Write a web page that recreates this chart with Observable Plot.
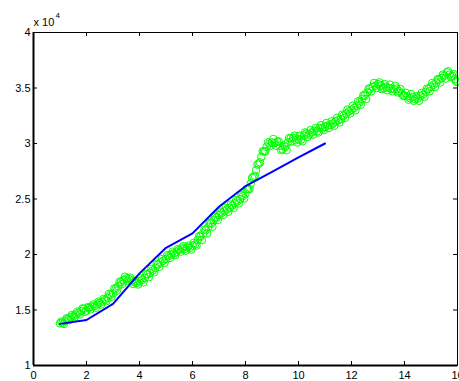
<!DOCTYPE html>
<html>
<head>
<meta charset="utf-8">
<script src="https://cdn.jsdelivr.net/npm/d3@7"></script>
<script src="https://cdn.jsdelivr.net/npm/@observablehq/plot@0.6"></script>
<style>
html, body { margin: 0; padding: 0; overflow: hidden; background: #fff; }
#chart { width: 459px; height: 381px; overflow: hidden; }
#chart svg { max-width: none !important; width: 480px !important; height: 381px !important; display: block; }
</style>
</head>
<body>
<div id="chart"></div>
<script>
// Blue line: x = 1..11
const lineX = [1, 2, 3, 4, 5, 6, 7, 8, 9, 10, 11];
const lineY = [13750, 14100, 15550, 18300, 20600, 21900, 24300, 26150, 27450, 28750, 30000];

// Green circles, first set: x = 1.0 .. 16.0 step 0.1
const greenX = [
  1.0,1.1,1.2,1.3,1.4,1.5,1.6,1.7,1.8,1.9,
  2.0,2.1,2.2,2.3,2.4,2.5,2.6,2.7,2.8,2.9,
  3.0,3.1,3.2,3.3,3.4,3.5,3.6,3.7,3.8,3.9,
  4.0,4.1,4.2,4.3,4.4,4.5,4.6,4.7,4.8,4.9,
  5.0,5.1,5.2,5.3,5.4,5.5,5.6,5.7,5.8,5.9,
  6.0,6.1,6.2,6.3,6.4,6.5,6.6,6.7,6.8,6.9,
  7.0,7.1,7.2,7.3,7.4,7.5,7.6,7.7,7.8,7.9,
  8.0,8.1,8.2,8.3,8.4,8.5,8.6,8.7,8.8,8.9,
  9.0,9.1,9.2,9.3,9.4,9.5,9.6,9.7,9.8,9.9,
  10.0,10.1,10.2,10.3,10.4,10.5,10.6,10.7,10.8,10.9,
  11.0,11.1,11.2,11.3,11.4,11.5,11.6,11.7,11.8,11.9,
  12.0,12.1,12.2,12.3,12.4,12.5,12.6,12.7,12.8,12.9,
  13.0,13.1,13.2,13.3,13.4,13.5,13.6,13.7,13.8,13.9,
  14.0,14.1,14.2,14.3,14.4,14.5,14.6,14.7,14.8,14.9,
  15.0,15.1,15.2,15.3,15.4,15.5,15.6,15.7,15.8,15.9,
  16.0
];
const greenY = [
  13800,13850,14000,14200,14350,14450,14600,14750,14900,15100,
  14950,15200,15300,15350,15500,15650,15750,15900,16100,16350,
  16500,16900,17150,17500,17700,17850,17800,17650,17500,17450,
  17600,17700,17900,18200,18350,18550,18800,19100,19300,19450,
  19600,19850,20000,20100,20250,20400,20550,20500,20650,20600,
  20800,20900,21300,21600,21900,22200,22500,22800,23100,23300,
  23550,23750,23900,24050,24200,24400,24600,24800,25000,25250,
  25500,25900,26400,27000,27600,28200,28800,29300,29700,30000,
  30100,30050,30150,29800,29500,29700,30100,30450,30500,30300,
  30400,30350,30700,30900,30800,31000,31150,31100,31400,31350,
  31500,31600,31650,31800,32000,32100,32200,32500,32700,32900,
  33050,33200,33400,33700,34000,34300,34600,34900,35100,35200,
  35350,35200,35000,35100,35000,34950,34900,34950,34700,34500,
  34300,34250,34100,34200,34000,34050,34300,34400,34650,34900,
  35100,35300,35500,35750,35900,36100,36400,36200,36100,35800,
  35550
];

// Green circles, second set: x = 1.05 .. 15.95 step 0.1
const greenX2 = [
  1.05,1.15,1.25,1.35,1.45,1.55,1.65,1.75,1.85,1.95,
  2.05,2.15,2.25,2.35,2.45,2.55,2.65,2.75,2.85,2.95,
  3.05,3.15,3.25,3.35,3.45,3.55,3.65,3.75,3.85,3.95,
  4.05,4.15,4.25,4.35,4.45,4.55,4.65,4.75,4.85,4.95,
  5.05,5.15,5.25,5.35,5.45,5.55,5.65,5.75,5.85,5.95,
  6.05,6.15,6.25,6.35,6.45,6.55,6.65,6.75,6.85,6.95,
  7.05,7.15,7.25,7.35,7.45,7.55,7.65,7.75,7.85,7.95,
  8.05,8.15,8.25,8.35,8.45,8.55,8.65,8.75,8.85,8.95,
  9.05,9.15,9.25,9.35,9.45,9.55,9.65,9.75,9.85,9.95,
  10.05,10.15,10.25,10.35,10.45,10.55,10.65,10.75,10.85,10.95,
  11.05,11.15,11.25,11.35,11.45,11.55,11.65,11.75,11.85,11.95,
  12.05,12.15,12.25,12.35,12.45,12.55,12.65,12.75,12.85,12.95,
  13.05,13.15,13.25,13.35,13.45,13.55,13.65,13.75,13.85,13.95,
  14.05,14.15,14.25,14.35,14.45,14.55,14.65,14.75,14.85,14.95,
  15.05,15.15,15.25,15.35,15.45,15.55,15.65,15.75,15.85,15.95
];
const greenY2 = [
  13950,13750,14250,14100,14550,14350,14850,14600,15150,14850,
  15250,15050,15500,15200,15750,15500,16000,15800,16450,16200,
  16950,16750,17550,17350,18000,17600,17900,17350,17650,17300,
  17850,17500,18250,17950,18700,18400,19150,18900,19600,19250,
  19950,19700,20250,19950,20500,20250,20750,20350,20800,20450,
  21050,20800,21650,21300,22250,21900,22850,22500,23400,23100,
  23850,23550,24200,23850,24500,24200,24900,24600,25350,25050,
  25900,25900,26900,27100,28100,28300,29300,29300,30100,29800,
  30400,29800,30200,29400,29800,29400,30500,30200,30700,30100,
  30700,30200,31000,30600,31200,30800,31400,31000,31650,31200,
  31850,31400,32000,31600,32300,31900,32600,32300,33050,32700,
  33400,33000,33800,33500,34350,34000,34950,34700,35450,35000,
  35500,34900,35350,34800,35300,34700,35200,34600,34900,34300,
  34550,33950,34450,33850,34250,33850,34550,34200,34950,34700,
  35450,35100,35800,35500,36200,35850,36500,36000,36250,35600
];

const xTicks = [0, 2, 4, 6, 8, 10, 12, 14, 16];
const yTicks = [10000, 15000, 20000, 25000, 30000, 35000, 40000];
const yTickLabels = ["1", "1.5", "2", "2.5", "3", "3.5", "4"];

const lineData = lineX.map((x, i) => ({x, y: lineY[i]}));
const greenData = greenX.map((x, i) => ({x, y: greenY[i]}))
  .concat(greenX2.map((x, i) => ({x, y: greenY2[i]})));

const W = 480, H = 381;
const mL = 33, mR = 23, mT = 32, mB = 16;
const innerW = W - mL - mR, innerH = H - mT - mB;
const tl = 4;
const font = "'Liberation Sans', Arial, Helvetica, sans-serif";

const chart = Plot.plot({
  width: W,
  height: H,
  marginLeft: mL,
  marginRight: mR,
  marginTop: mT,
  marginBottom: mB,
  style: {fontFamily: font, fontSize: "11px", color: "#000", background: "#fff", overflow: "visible"},
  x: {domain: [0, 16]},
  y: {domain: [10000, 40000]},
  marks: [
    Plot.dot(greenData, {x: "x", y: "y", r: 3.8, stroke: "#00ff00", strokeWidth: 1, fill: "none"}),
    Plot.line(lineData, {x: "x", y: "y", stroke: "#0000ff", strokeWidth: 2}),
    Plot.frame({stroke: "#000", strokeWidth: 1}),
    Plot.ruleX([0], {stroke: "#000", strokeWidth: 2}),
    Plot.ruleY([10000], {stroke: "#000", strokeWidth: 2}),
    Plot.tickX(xTicks, {x: d => d, insetTop: innerH - tl, stroke: "#000", strokeWidth: 1}),
    Plot.tickX(xTicks, {x: d => d, insetBottom: innerH - tl, stroke: "#000", strokeWidth: 1}),
    Plot.tickY(yTicks, {y: d => d, insetRight: innerW - tl, stroke: "#000", strokeWidth: 1}),
    Plot.tickY(yTicks, {y: d => d, insetLeft: innerW - tl, stroke: "#000", strokeWidth: 1}),
    Plot.axisX(xTicks, {tickSize: 0, tickPadding: 6, fontSize: 11, fill: "#000", label: null, tickFormat: d => String(d)}),
    Plot.axisY(yTicks, {tickSize: 0, tickPadding: 3, fontSize: 11, fill: "#000", label: null, tickFormat: d => yTickLabels[yTicks.indexOf(d)]}),
    Plot.text(["x 10"], {frameAnchor: "top-left", dx: 0, dy: -7, textAnchor: "start", lineAnchor: "bottom", fontSize: 11, fill: "#000"}),
    Plot.text(["4"], {frameAnchor: "top-left", dx: 22, dy: -15, textAnchor: "start", lineAnchor: "bottom", fontSize: 8, fill: "#000"})
  ]
});
document.getElementById("chart").appendChild(chart);
</script>
</body>
</html>
